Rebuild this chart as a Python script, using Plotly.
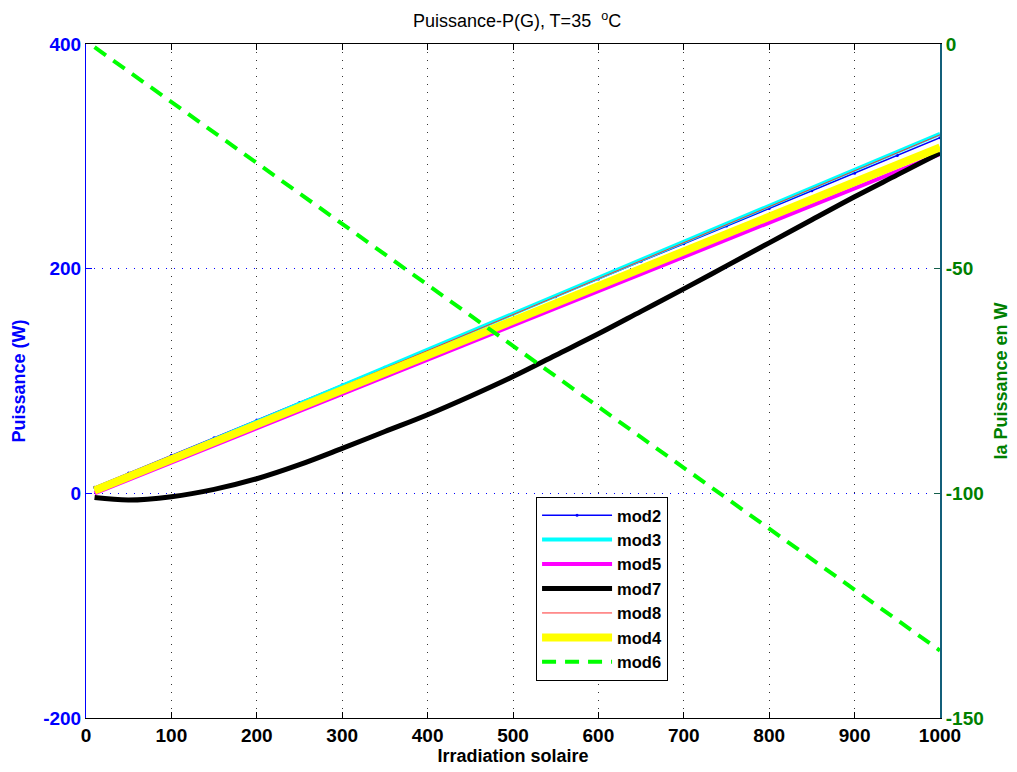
import plotly.graph_objects as go

x_irr = [10, 50, 100, 150, 200, 250, 300, 350, 400, 450, 500, 550, 600, 650, 700, 750, 800, 850, 900, 950, 1000]

mod2 = [5.5, 18.1, 33.8, 49.5, 65.2, 80.9, 96.6, 112.3, 128.0, 143.7, 159.4, 175.1, 190.8, 206.5, 222.2, 237.9, 253.6, 269.3, 285.0, 300.7, 316.5]
mod3 = [3.0, 15.8, 31.8, 47.8, 63.8, 79.8, 95.9, 111.9, 127.9, 143.9, 159.9, 175.9, 191.9, 207.9, 223.9, 240.0, 256.0, 272.0, 288.0, 304.0, 320.0]
mod5 = [0.0, 12.2, 27.5, 42.7, 58.0, 73.2, 88.5, 103.7, 119.0, 134.3, 149.5, 164.8, 180.0, 195.3, 210.5, 225.8, 241.0, 256.3, 271.6, 286.8, 302.0]
mod7 = [-3.8, -6.0, -3.0, 3.5, 13.0, 25.5, 40.0, 55.0, 70.0, 86.5, 104.0, 123.0, 142.0, 162.0, 182.0, 202.5, 223.0, 243.5, 264.0, 283.5, 303.0]
mod8 = [2.2, 15.0, 31.0, 47.0, 63.0, 79.0, 95.1, 111.1, 127.1, 143.1, 159.1, 175.1, 191.1, 207.1, 223.1, 239.2, 255.2, 271.2, 287.2, 303.2, 319.2]
mod4 = [2.5, 14.8, 30.3, 45.7, 61.1, 76.6, 92.0, 107.4, 122.9, 138.3, 153.7, 169.1, 184.6, 200.0, 215.4, 230.9, 246.3, 261.7, 277.2, 292.6, 308.0]
mod6 = [-0.7, -6.1, -12.9, -19.7, -26.5, -33.3, -40.1, -46.8, -53.6, -60.4, -67.2, -74.0, -80.8, -87.6, -94.4, -101.2, -108.0, -114.8, -121.6, -128.4, -135.0]

star_x = [1004.7]
star_y = [325]

x_ticks = [0, 100, 200, 300, 400, 500, 600, 700, 800, 900, 1000]
left_ticks = [-200, 0, 200, 400]
right_ticks = [-150, -100, -50, 0]

FONT = "Liberation Sans, Arial, Helvetica, sans-serif"

fig = go.Figure()

fig.add_trace(go.Scatter(x=x_irr, y=mod2, name="mod2", mode="lines+markers",
                         line=dict(color="#0000ff", width=1.5),
                         marker=dict(color="#0000ff", size=3)))
fig.add_trace(go.Scatter(x=x_irr, y=mod3, name="mod3", mode="lines",
                         line=dict(color="#00ffff", width=4)))
fig.add_trace(go.Scatter(x=x_irr, y=mod5, name="mod5", mode="lines",
                         line=dict(color="#ff00ff", width=4)))
fig.add_trace(go.Scatter(x=x_irr, y=mod7, name="mod7", mode="lines",
                         line=dict(color="#000000", width=5, shape="spline", smoothing=1.0)))
fig.add_trace(go.Scatter(x=x_irr, y=mod8, name="mod8", mode="lines",
                         line=dict(color="#ff3030", width=1)))
fig.add_trace(go.Scatter(x=x_irr, y=mod4, name="mod4", mode="lines",
                         line=dict(color="#ffff00", width=8)))
fig.add_trace(go.Scatter(x=x_irr, y=mod6, name="mod6", mode="lines", yaxis="y2",
                         line=dict(color="#00ff00", width=4, dash="14px,9px")))
fig.add_trace(go.Scatter(x=star_x, y=star_y, mode="markers", showlegend=False,
                         cliponaxis=False,
                         marker=dict(symbol="asterisk-open", size=7, color="black",
                                     line=dict(color="black", width=2))))

fig.update_layout(
    width=1009, height=764,
    paper_bgcolor="white", plot_bgcolor="white",
    margin=dict(l=78, r=77, t=36, b=54, autoexpand=False),
    font=dict(family=FONT, size=16, color="black"),
    title=dict(text="Puissance-P(G), T=35  <sup>o</sup>C", x=0.5045, xanchor="center",
               y=0.983, yanchor="middle", font=dict(family=FONT, size=18, color="black")),
    showlegend=True,
    legend=dict(x=0.527, y=0.328, xanchor="left", yanchor="top",
                bgcolor="white", bordercolor="black", borderwidth=1,
                font=dict(family=FONT, size=16.5, color="black", weight="bold"),
                tracegroupgap=0, itemwidth=70),
    xaxis=dict(range=[0, 1000], tickvals=x_ticks, ticktext=[str(v) for v in x_ticks],
               automargin=False,
               showline=True, linecolor="black", linewidth=1, mirror="ticks",
               ticks="inside", ticklen=6, tickcolor="black",
               showgrid=True, gridcolor="#333333", griddash="1px,7px", gridwidth=1,
               zeroline=False,
               tickfont=dict(family=FONT, size=19, color="black", weight="bold"),
               title=dict(text="<b>Irradiation solaire</b>", standoff=2,
                          font=dict(family=FONT, size=18, color="black"))),
    yaxis=dict(range=[-200, 400], tickvals=left_ticks, ticktext=[str(v) for v in left_ticks],
               automargin=False,
               showline=True, linecolor="#0000ff", linewidth=1,
               ticks="inside", ticklen=6, tickcolor="#0000ff",
               showgrid=True, gridcolor="#0000ff", griddash="1px,7px", gridwidth=1,
               zeroline=False,
               tickfont=dict(family=FONT, size=19, color="#0000ff", weight="bold"),
               title=dict(text="<b>Puissance (W)</b>", standoff=12,
                          font=dict(family=FONT, size=18, color="#0000ff"))),
    yaxis2=dict(range=[-150, 0], tickvals=right_ticks, ticktext=[str(v) for v in right_ticks],
                automargin=False,
                overlaying="y", side="right", anchor="x",
                showline=True, linecolor="#135f7a", linewidth=2,
                ticks="inside", ticklen=6, tickcolor="#135f4a",
                showgrid=False, zeroline=False,
                tickfont=dict(family=FONT, size=19, color="#008000", weight="bold"),
                title=dict(text="<b>la Puissance en W</b>", standoff=12,
                           font=dict(family=FONT, size=18, color="#008000"))),
)

fig.write_html("out.html")
